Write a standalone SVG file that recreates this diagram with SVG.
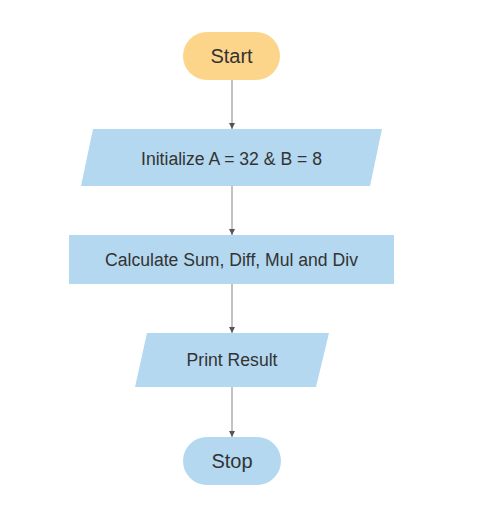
<svg xmlns="http://www.w3.org/2000/svg" width="484" height="525" viewBox="0 0 484 525">
<defs>
<marker id="arr" markerWidth="8" markerHeight="8" refX="7" refY="4" orient="auto" markerUnits="userSpaceOnUse">
<path d="M1,1 L7,4 L1,7 Z" fill="#555"/>
</marker>
<style>
.t{font-family:"Liberation Sans",Arial,sans-serif;fill:#333;text-anchor:middle}
.b{font-size:17.6px}
.s{font-size:20px}
.blue{fill:#b3d8ef}
.c{stroke:#999;stroke-width:1.2;fill:none;marker-end:url(#arr)}
</style>
</defs>
<rect width="484" height="525" fill="#fff"/>
<g id="connectors">
<line class="c" x1="232" y1="80" x2="232" y2="129"/>
<line class="c" x1="232" y1="186" x2="232" y2="235"/>
<line class="c" x1="232" y1="284" x2="232" y2="333"/>
<line class="c" x1="232" y1="387" x2="232" y2="437"/>
</g>
<g id="start">
<rect x="183" y="32" width="97" height="48" rx="24" fill="#fdd58a"/>
<text class="t s" x="231.5" y="63">Start</text>
</g>
<g id="init">
<polygon class="blue" points="93,129 382,129 370,186 81,186"/>
<text class="t b" x="231.5" y="165">Initialize A = 32 &amp; B = 8</text>
</g>
<g id="calc">
<rect class="blue" x="69" y="235" width="325" height="49"/>
<text class="t b" x="231.5" y="266">Calculate Sum, Diff, Mul and Div</text>
</g>
<g id="print">
<polygon class="blue" points="147,333 329,333 316,387 135,387"/>
<text class="t b" x="232" y="366">Print Result</text>
</g>
<g id="stop">
<rect class="blue" x="183" y="437" width="98" height="48" rx="24"/>
<text class="t s" x="232" y="468">Stop</text>
</g>
</svg>
